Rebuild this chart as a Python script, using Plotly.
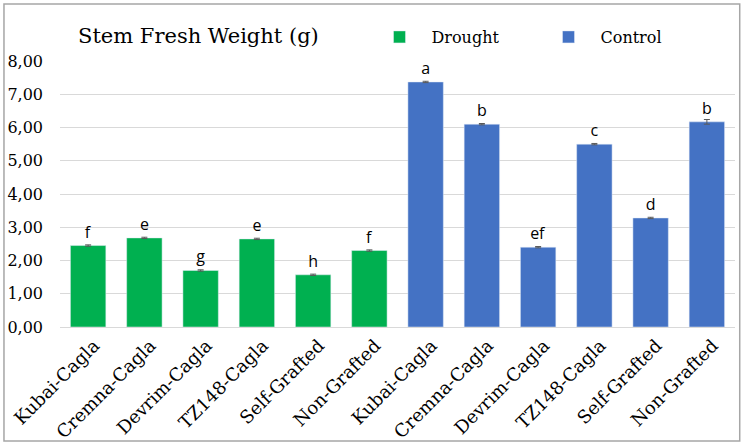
import plotly.graph_objects as go

genotypes = ["Kubai-Cagla", "Cremna-Cagla", "Devrim-Cagla", "TZ148-Cagla", "Self-Grafted", "Non-Grafted"]
drought_vals = [2.45, 2.68, 1.70, 2.65, 1.57, 2.30]
drought_err = [0.02, 0.02, 0.02, 0.02, 0.02, 0.02]
drought_letters = ["f", "e", "g", "e", "h", "f"]
control_vals = [7.37, 6.10, 2.40, 5.50, 3.28, 6.17]
control_err = [0.02, 0.02, 0.02, 0.02, 0.02, 0.07]
control_letters = ["a", "b", "ef", "c", "d", "b"]
y_ticks = [0, 1, 2, 3, 4, 5, 6, 7, 8]

n = len(genotypes)
x_d = list(range(n))
x_c = list(range(n, 2 * n))

serif = "DejaVu Serif, serif"
sans = "Open Sans, Liberation Sans, Arial"

fig = go.Figure()
fig.add_trace(go.Bar(
    x=x_d, y=drought_vals, name="Drought", marker_color="#00B050", width=0.63,
    error_y=dict(type="data", array=drought_err, color="#595959", thickness=1, width=3),
    text=drought_letters, textposition="outside",
    textfont=dict(family=sans, size=16, color="#000000"),
    cliponaxis=False,
))
fig.add_trace(go.Bar(
    x=x_c, y=control_vals, name="Control", marker_color="#4472C4", width=0.63,
    error_y=dict(type="data", array=control_err, color="#595959", thickness=1, width=3),
    text=control_letters, textposition="outside",
    textfont=dict(family=sans, size=16, color="#000000"),
    cliponaxis=False,
))

fig.update_layout(
    width=750, height=446,
    margin=dict(l=60, r=15, t=61, b=119, autoexpand=False),
    paper_bgcolor="white", plot_bgcolor="white",
    barmode="overlay",
    separators=", ",
    title=dict(text="Stem Fresh Weight (g)", x=78 / 750, xanchor="left", xref="container",
               y=1 - 36 / 446, yanchor="middle", yref="container",
               font=dict(family=serif, size=21, color="#000000")),
    legend=dict(orientation="h", x=0.49, xanchor="left", xref="container",
                y=1 - 37 / 446, yanchor="middle", yref="container",
                font=dict(family=serif, size=16, color="#000000"), itemwidth=54,
                entrywidth=100, entrywidthmode="pixels",
                traceorder="normal", bgcolor="rgba(0,0,0,0)"),
    font=dict(family=serif, color="#000000"),
    showlegend=True,
)
fig.update_xaxes(
    range=[-0.5, 2 * n - 0.5], automargin=False,
    tickmode="array", tickvals=x_d + x_c, ticktext=genotypes + genotypes,
    tickangle=-45, tickfont=dict(family=serif, size=18, color="#000000"), ticklabelshift=6,
    showgrid=False, showline=True, linecolor="#d9d9d9", ticks="", zeroline=False,
)
fig.update_yaxes(
    range=[0, 8], tickmode="array", tickvals=y_ticks, tickformat=".2f", automargin=False,
    tickfont=dict(family=serif, size=16, color="#000000"), ticklabelstandoff=16,
    showgrid=True, gridcolor="#d9d9d9", gridwidth=1, zeroline=False, showline=False,
)
fig.add_shape(type="rect", xref="paper", yref="paper",
              x0=-0.083, x1=1.007, y0=-0.429, y1=1.214,
              line=dict(color="#a6a6a6", width=1.5), fillcolor="rgba(0,0,0,0)", layer="below")

fig.write_html("out.html", config={"displayModeBar": False},
               post_script="document.body.style.margin='0px';")
